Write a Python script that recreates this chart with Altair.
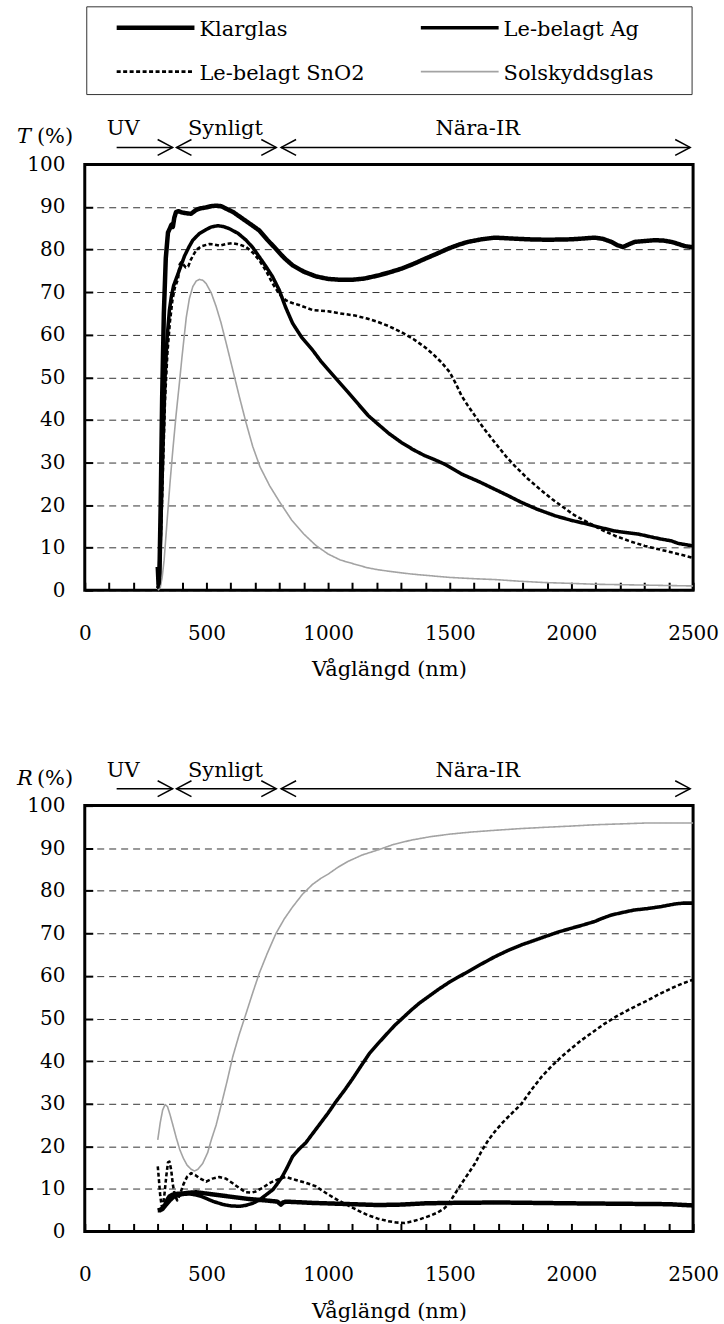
import altair as alt
import pandas as pd

FONT = "DejaVu Serif"
FS = 21
FS_TICK = 20

SERIES = ["Klarglas", "Le-belagt Ag", "Le-belagt SnO2", "Solskyddsglas"]
DRAW_ORDER = ["Solskyddsglas", "Le-belagt SnO2", "Le-belagt Ag", "Klarglas"]

REGIONS = ["UV", "Synligt", "Nära-IR"]
REGION_START = [131, 377, 807]
REGION_END = [361, 787, 2488]
REGION_LEFT_HEAD = [False, True, True]
REGION_LABEL_AT = [158, 578, 1615]

X_TICKS = list(range(0, 2501, 100))
Y_TICKS = list(range(0, 101, 10))

# ---------------- Transmittans (T) ----------------
T_klar_nm = [300, 303, 307, 312, 318, 325, 333, 342, 350, 356, 362, 368, 375, 385, 400, 420, 437, 455,
             470, 499, 520, 540, 560, 581, 610, 640, 680, 717, 750, 780, 820, 854, 900, 950, 1000, 1050,
             1100, 1150, 1205, 1250, 1301, 1350, 1397, 1450, 1493, 1540, 1575, 1630, 1685, 1750, 1822,
             1900, 2000, 2050, 2096, 2130, 2164, 2190, 2212, 2235, 2260, 2300, 2342, 2380, 2411, 2440,
             2466, 2493, 2500]
T_klar_v = [5.5, 1.5, 4, 20, 45, 65, 78, 84, 85, 85.8, 85.3, 87.5, 88.8, 89, 88.7, 88.5, 88.4, 89.2,
            89.6, 89.9, 90.2, 90.3, 90.2, 89.6, 88.8, 87.6, 86, 84.5, 82.3, 80.5, 78, 76.3, 74.8, 73.7,
            73.1, 72.9, 72.9, 73.2, 73.9, 74.6, 75.5, 76.6, 77.8, 79.1, 80.2, 81.2, 81.8, 82.4, 82.8,
            82.6, 82.4, 82.3, 82.4, 82.6, 82.8, 82.5, 81.8, 81, 80.6, 81.2, 81.8, 82, 82.2, 82.1, 81.8,
            81.3, 80.8, 80.6, 80.5]

T_ag_nm = [300, 305, 310, 316, 322, 330, 338, 348, 356, 365, 378, 389, 410, 430, 444, 470, 499, 520,
           546, 570, 594, 630, 663, 690, 717, 745, 772, 799, 825, 854, 890, 936, 970, 1000, 1040, 1082,
           1127, 1165, 1205, 1250, 1301, 1350, 1397, 1440, 1479, 1548, 1620, 1685, 1740, 1795, 1860,
           1932, 2000, 2068, 2120, 2178, 2230, 2274, 2320, 2370, 2410, 2438, 2470, 2500]
T_ag_v = [0.5, 2, 10, 22, 35, 50, 59, 65.8, 69, 71.5, 73.5, 75.2, 78.5, 80.8, 82.2, 83.7, 84.7, 85.3,
          85.6, 85.4, 84.9, 83.8, 82.2, 80.5, 78.3, 76, 73.6, 70.5, 66.5, 62.7, 59.5, 56.4, 53.8, 51.8,
          49.2, 46.5, 43.5, 41, 39, 36.8, 34.7, 33, 31.6, 30.6, 29.6, 27.3, 25.5, 23.7, 22.2, 20.6, 19,
          17.5, 16.4, 15.5, 14.7, 13.9, 13.5, 13.2, 12.6, 12, 11.6, 11, 10.7, 10.4]

T_sn_nm = [300, 305, 310, 316, 322, 330, 340, 350, 360, 370, 383, 390, 396, 405, 415, 425, 435, 447,
           460, 480, 512, 530, 553, 580, 608, 635, 663, 690, 717, 745, 772, 800, 826, 850, 880, 936,
           1000, 1050, 1110, 1160, 1205, 1250, 1301, 1350, 1397, 1430, 1466, 1500, 1525, 1548, 1575,
           1603, 1640, 1685, 1730, 1767, 1822, 1877, 1920, 1959, 2010, 2068, 2120, 2178, 2240, 2301,
           2360, 2411, 2460, 2500]
T_sn_v = [0.5, 2, 8, 18, 30, 45, 56, 63, 68, 71, 73, 76.5, 77, 76.5, 75.8, 76, 77.5, 78.8, 80, 80.8,
          81.3, 81.2, 80.9, 81.3, 81.5, 81.2, 80.6, 79.3, 77.5, 75, 72, 69.5, 68.1, 67.5, 67, 65.8,
          65.5, 65, 64.5, 63.8, 63, 62, 60.6, 59, 57.1, 55.5, 53.5, 51.2, 48.5, 45.7, 43.3, 41, 38,
          34.7, 31.5, 29.2, 26.1, 23.4, 21.4, 19.8, 17.7, 15.9, 14.3, 12.8, 11.5, 10.4, 9.6, 8.9, 8.2,
          7.6]

T_sol_nm = [300, 310, 318, 326, 334, 342, 350, 362, 375, 389, 400, 417, 430, 444, 458, 471, 485, 499,
            520, 540, 560, 580, 608, 635, 663, 690, 720, 760, 800, 850, 900, 950, 1000, 1050, 1110,
            1160, 1205, 1270, 1342, 1420, 1500, 1600, 1685, 1790, 1890, 2000, 2096, 2200, 2300, 2400,
            2500]
T_sol_v = [0, 0.5, 3, 7, 13, 19, 25, 33, 41, 48.7, 55, 64, 68.5, 71.3, 72.6, 73, 72.8, 72, 69.8,
           66.6, 62.8, 58.3, 51.8, 45.5, 39.3, 33.8, 29, 24.5, 20.8, 16.5, 13.2, 10.5, 8.5, 7.1, 6.1,
           5.3, 4.8, 4.3, 3.8, 3.4, 3.0, 2.7, 2.5, 2.1, 1.8, 1.6, 1.4, 1.3, 1.2, 1.1, 1.0]

# ---------------- Reflektans (R) ----------------
R_klar_nm = [300, 310, 320, 328, 338, 348, 360, 375, 400, 430, 458, 500, 567, 620, 677, 740, 792, 800,
             806, 815, 826, 900, 935, 1045, 1205, 1300, 1400, 1500, 1700, 2000, 2200, 2400, 2500]
R_klar_v = [5, 5, 5.3, 5.9, 7.3, 8.2, 8.6, 8.8, 8.9, 9.1, 9.2, 8.9, 8.4, 8, 7.6, 7.3, 7.0, 6.6, 6.3,
            6.8, 7.0, 6.8, 6.7, 6.5, 6.2, 6.3, 6.6, 6.7, 6.8, 6.6, 6.5, 6.4, 6.1]

R_ag_nm = [300, 310, 320, 335, 350, 365, 380, 405, 430, 455, 480, 505, 530, 570, 600, 635, 660, 690,
           718, 745, 773, 795, 812, 830, 854, 880, 908, 950, 1000, 1030, 1068, 1100, 1137, 1170, 1205,
           1240, 1274, 1310, 1342, 1375, 1411, 1455, 1500, 1540, 1575, 1630, 1685, 1740, 1795, 1840,
           1890, 1945, 2000, 2050, 2096, 2130, 2164, 2210, 2260, 2310, 2370, 2425, 2460, 2500]
R_ag_v = [5, 5.2, 5.5, 6.2, 7.2, 8, 8.4, 8.7, 8.8, 8.6, 8.2, 7.6, 7, 6.3, 6, 5.9, 6.1, 6.6, 7.4, 8.6,
          9.8, 11.5, 12.9, 14.8, 17.6, 19.3, 20.8, 24, 27.8, 30.3, 33.2, 35.8, 39, 41.8, 44.1, 46.3,
          48.4, 50.3, 52, 53.6, 55.1, 56.9, 58.6, 59.9, 61, 62.8, 64.5, 66, 67.3, 68.2, 69.2, 70.3,
          71.2, 72, 72.8, 73.6, 74.3, 74.9, 75.5, 75.8, 76.3, 76.9, 77.1, 77.1]

R_sn_nm = [300, 305, 310, 316, 321, 328, 335, 342, 348, 355, 362, 370, 380, 390, 405, 420, 437, 455,
           471, 499, 525, 553, 580, 608, 635, 662, 685, 703, 730, 758, 780, 799, 826, 867, 910, 949,
           1000, 1045, 1082, 1120, 1164, 1205, 1247, 1280, 1315, 1350, 1384, 1420, 1452, 1475, 1493,
           1520, 1548, 1575, 1603, 1630, 1658, 1690, 1726, 1760, 1795, 1835, 1877, 1920, 1959, 2000,
           2041, 2090, 2137, 2185, 2233, 2275, 2315, 2360, 2411, 2455, 2500]
R_sn_v = [15.3, 12, 8.5, 6, 5.9, 9, 13, 16.2, 16.4, 14.5, 11, 8.5, 7.3, 8.5, 11, 12.8, 13.7, 13.2,
          12.5, 11.7, 12.4, 12.8, 12.4, 11.3, 10.2, 9.2, 9.1, 9.4, 10.2, 11.3, 11.9, 12.3, 12.8, 12.1,
          11.4, 10.6, 8.7, 7.2, 6.1, 5, 3.8, 3, 2.4, 2.1, 2, 2.4, 3, 3.7, 4.5, 5.3, 6.3, 8.7, 11.2,
          13.5, 15.9, 18.8, 21.4, 23.8, 26.1, 28, 30, 33.2, 36.3, 38.9, 41, 43, 44.9, 46.9, 48.8, 50.5,
          52, 53.2, 54.3, 55.7, 57.1, 58.2, 59.1]

R_sol_nm = [300, 310, 320, 330, 340, 350, 362, 376, 390, 405, 420, 437, 451, 465, 485, 505, 520, 540,
            560, 585, 608, 635, 663, 690, 717, 750, 786, 820, 854, 895, 936, 970, 1000, 1040, 1082,
            1140, 1205, 1270, 1342, 1420, 1500, 1590, 1685, 1790, 1890, 2000, 2096, 2200, 2301, 2400,
            2500]
R_sol_v = [21.5, 25.5, 28.5, 29.8, 29.3, 27.5, 25, 22, 19.3, 17.2, 15.6, 14.6, 14.2, 14.6, 16, 18.5,
           21.5, 25, 29.5, 35.3, 41, 46.3, 51.2, 56, 60.6, 65.3, 70, 73.4, 76.2, 79.2, 81.5, 82.9,
           83.9, 85.5, 86.9, 88.4, 89.6, 90.9, 91.9, 92.7, 93.3, 93.8, 94.2, 94.6, 94.9, 95.2, 95.5,
           95.7, 95.9, 95.9, 95.9]


def curve(nm, v, name):
    return pd.DataFrame({"nm": nm, "v": v, "series": name})


T_CURVES = {
    "Klarglas": curve(T_klar_nm, T_klar_v, "Klarglas"),
    "Le-belagt Ag": curve(T_ag_nm, T_ag_v, "Le-belagt Ag"),
    "Le-belagt SnO2": curve(T_sn_nm, T_sn_v, "Le-belagt SnO2"),
    "Solskyddsglas": curve(T_sol_nm, T_sol_v, "Solskyddsglas"),
}
R_CURVES = {
    "Klarglas": curve(R_klar_nm, R_klar_v, "Klarglas"),
    "Le-belagt Ag": curve(R_ag_nm, R_ag_v, "Le-belagt Ag"),
    "Le-belagt SnO2": curve(R_sn_nm, R_sn_v, "Le-belagt SnO2"),
    "Solskyddsglas": curve(R_sol_nm, R_sol_v, "Solskyddsglas"),
}

region_df = pd.DataFrame({
    "region": REGIONS, "start": REGION_START, "end": REGION_END,
    "lefthead": REGION_LEFT_HEAD, "label_at": REGION_LABEL_AT,
})

PW, PH = 610, 427

color_scale = alt.Scale(domain=SERIES, range=["#000000", "#000000", "#000000", "#a3a3a3"])
width_scale = alt.Scale(domain=SERIES, range=[4.5, 1.6, 1.8, 2.8])
dash_scale = alt.Scale(domain=SERIES, range=[[1, 0], [1, 0], [4, 2.5], [1, 0]])

x_scale = alt.Scale(domain=[0, 2500], nice=False, zero=False)
y_scale = alt.Scale(domain=[0, 100], nice=False)

x_axis = alt.Axis(
    values=X_TICKS, format="d",
    labelExpr="datum.value % 500 === 0 ? datum.label : ''",
    title="Våglängd (nm)", offset=-8, tickSize=8, tickWidth=2, tickColor="black",
    domain=False, grid=False, labelPadding=33, titlePadding=16,
    labelFont=FONT, labelFontSize=FS_TICK, labelColor="black", labelFlush=False, labelOverlap=False,
    titleFont=FONT, titleFontSize=FS, titleFontWeight="normal", titleColor="black",
)
y_axis = alt.Axis(
    values=Y_TICKS, format="d", title=None, offset=-8, tickSize=8, tickWidth=2, tickColor="black",
    domain=False, grid=True, gridDash=[7, 5], gridWidth=1,
    gridColor={"condition": {"test": "datum.value === 0 || datum.value === 100", "value": "black"},
               "value": "#333333"},
    labelPadding=20, labelFont=FONT, labelFontSize=FS_TICK, labelColor="black", labelOverlap=False,
)

CHEVRON_R = "M-1,-0.53L0,0L-1,0.53"
CHEVRON_L = "M1,-0.53L0,0L1,0.53"


def series_enc():
    return dict(
        color=alt.Color("series:N", scale=color_scale, legend=None),
        strokeWidth=alt.StrokeWidth("series:N", scale=width_scale, legend=None),
        strokeDash=alt.StrokeDash("series:N", scale=dash_scale, legend=None),
    )


def header_layers(letter):
    base = alt.Chart(region_df)
    rules = base.mark_rule(color="black", strokeWidth=1.5).encode(
        x=alt.X("start:Q", scale=x_scale, axis=x_axis), x2="end:Q", y=alt.value(-17))
    head_r = base.mark_point(shape=CHEVRON_R, size=900, filled=False, color="black",
                             strokeWidth=1.5, opacity=1).encode(
        x=alt.X("end:Q", scale=x_scale, axis=x_axis), y=alt.value(-17))
    head_l = base.transform_filter("datum.lefthead").mark_point(
        shape=CHEVRON_L, size=900, filled=False, color="black", strokeWidth=1.5, opacity=1).encode(
        x=alt.X("start:Q", scale=x_scale, axis=x_axis), y=alt.value(-17))
    labels = base.mark_text(font=FONT, fontSize=FS, color="black", align="center",
                            baseline="alphabetic").encode(
        x=alt.X("label_at:Q", scale=x_scale, axis=x_axis), y=alt.value(-29), text="region:N")
    one = pd.DataFrame({"k": [letter]})
    letter_t = alt.Chart(one).mark_text(font=FONT, fontSize=FS, fontStyle="italic", color="black",
                                        align="left", baseline="alphabetic").encode(
        x=alt.value(-68), y=alt.value(-21), text="k:N")
    pct = alt.Chart(one).mark_text(font=FONT, fontSize=FS, color="black", align="left",
                                   baseline="alphabetic", text="(%)").encode(
        x=alt.value(-48), y=alt.value(-21))
    return [rules, head_r, head_l, labels, letter_t, pct]


def legend_layers():
    layers = []
    box = alt.Chart(pd.DataFrame({"k": [0]})).mark_rect(
        fill=None, stroke="#333333", strokeWidth=1).encode(
        x=alt.value(2), x2=alt.value(609), y=alt.value(-158), y2=alt.value(-70))
    layers.append(box)
    row_y = [-137, -93]
    col_x = [32, 337]
    for i, name in enumerate(SERIES):
        cx = col_x[i % 2]
        ry = row_y[i // 2]
        d = pd.DataFrame({"series": [name]})
        layers.append(alt.Chart(d).mark_rule().encode(
            x=alt.value(cx), x2=alt.value(cx + 78), y=alt.value(ry), **series_enc()))
        layers.append(alt.Chart(d).mark_text(font=FONT, fontSize=FS, color="black",
                                             align="left", baseline="alphabetic").encode(
            x=alt.value(cx + 83), y=alt.value(ry + 8), text="series:N"))
    return layers


def panel(curves, letter, with_legend):
    layers = []
    for name in DRAW_ORDER:
        layers.append(alt.Chart(curves[name]).mark_line(strokeJoin="round").encode(
            x=alt.X("nm:Q", scale=x_scale, axis=x_axis),
            y=alt.Y("v:Q", scale=y_scale, axis=y_axis),
            **series_enc()))
    layers += header_layers(letter)
    if with_legend:
        layers += legend_layers()
    return alt.layer(*layers).properties(width=PW, height=PH)


top = panel(T_CURVES, "T", True)
bottom = panel(R_CURVES, "R", False)

chart = alt.vconcat(top, bottom, spacing=216, bounds="flush").properties(
    padding={"left": 15, "top": 3, "right": 4, "bottom": 4}
).configure(font=FONT).configure_view(stroke="black", strokeWidth=3)

chart.save("out.html", embed_options={"renderer": "svg", "actions": False})
